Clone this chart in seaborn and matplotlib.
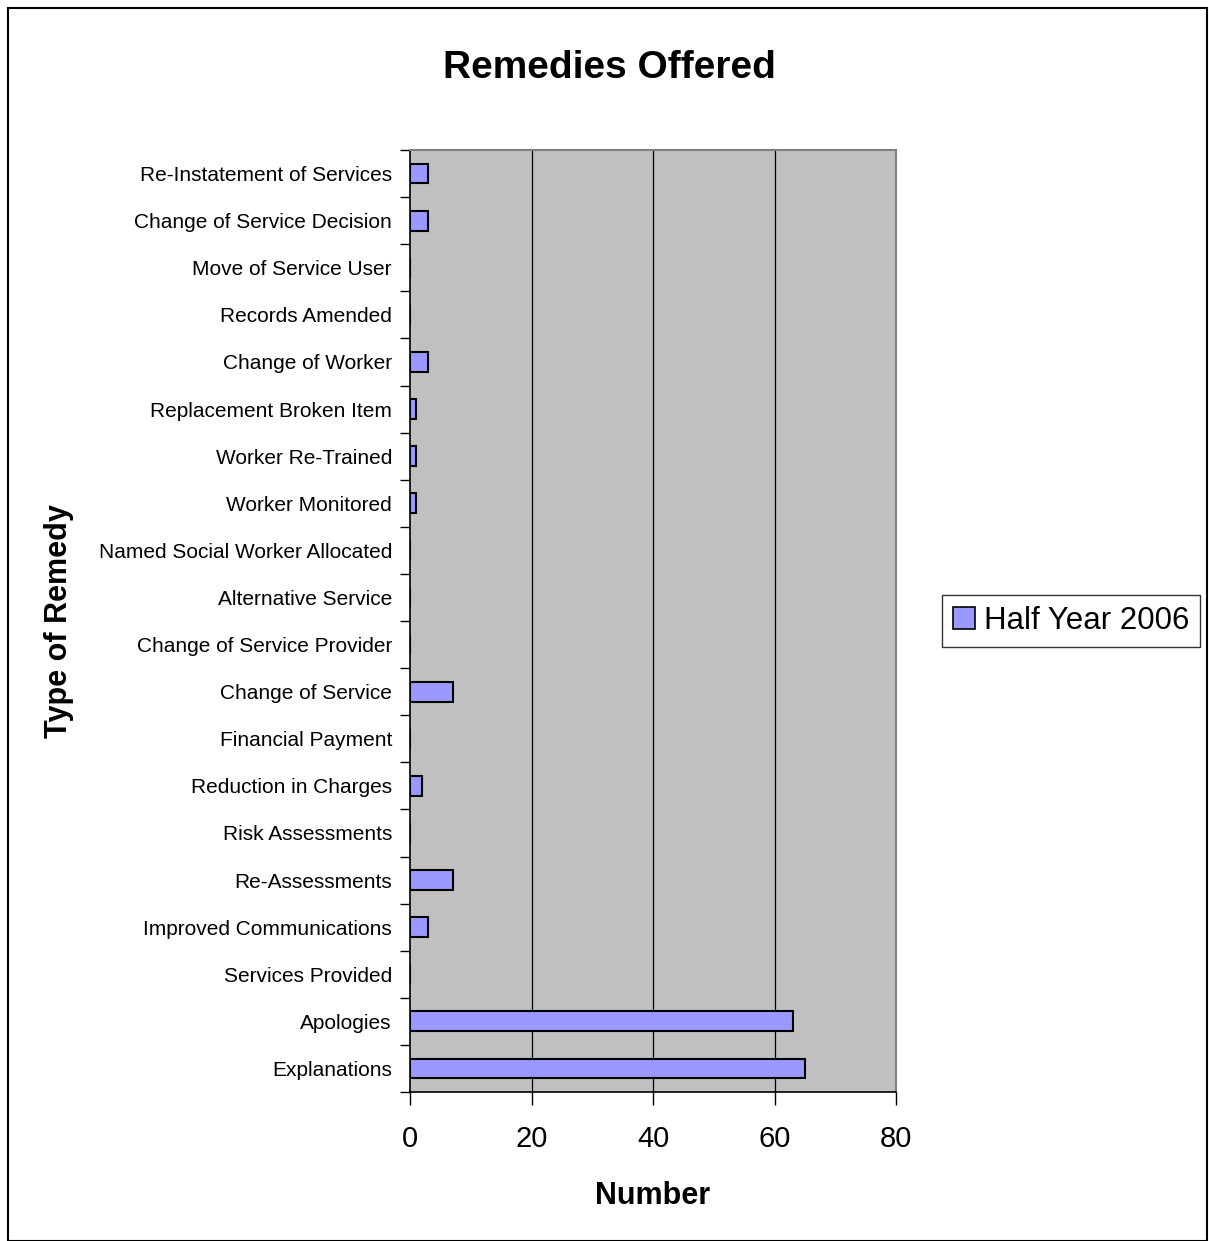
import matplotlib
matplotlib.use("Agg")
import matplotlib.pyplot as plt
from matplotlib.patches import Rectangle
import seaborn as sns
import pandas as pd
import numpy as np

categories = [
    "Re-Instatement of Services",
    "Change of Service Decision",
    "Move of Service User",
    "Records Amended",
    "Change of Worker",
    "Replacement Broken Item",
    "Worker Re-Trained",
    "Worker Monitored",
    "Named Social Worker Allocated",
    "Alternative Service",
    "Change of Service Provider",
    "Change of Service",
    "Financial Payment",
    "Reduction in Charges",
    "Risk Assessments",
    "Re-Assessments",
    "Improved Communications",
    "Services Provided",
    "Apologies",
    "Explanations",
]
values = [3, 3, 0, 0, 3, 1, 1, 1, 0, 0, 0, 7, 0, 2, 0, 7, 3, 0, 63, 65]
series_name = "Half Year 2006"
x_ticks = [0, 20, 40, 60, 80]

df = pd.DataFrame({"Type of Remedy": categories, "Number": values, "Series": series_name})

sns.set_theme(style="white")
plt.rcParams["font.family"] = ["Liberation Sans", "DejaVu Sans"]
plt.rcParams["text.color"] = "black"
plt.rcParams["axes.labelcolor"] = "black"
plt.rcParams["xtick.color"] = "black"
plt.rcParams["ytick.color"] = "black"

W, H = 1209, 1241
fig = plt.figure(figsize=(W / 100, H / 100), dpi=100)
ax = fig.add_axes([410 / W, 1 - 1092 / H, (896 - 410) / W, (1092 - 150) / H])
ax.set_facecolor("#C0C0C0")

sns.barplot(data=df, x="Number", y="Type of Remedy", hue="Series", orient="h",
            palette=["#9999FF"], edgecolor="black", linewidth=1.5, width=0.42,
            saturation=1, ax=ax, legend=False, zorder=3)

ax.set_xlim(0, 80)
ax.set_ylim(19.5, -0.5)
ax.set_xticks(x_ticks)
ax.set_xticklabels([str(t) for t in x_ticks], fontsize=21)
ax.tick_params(axis="x", direction="out", length=9, width=1, colors="black", pad=15, bottom=True)
ax.tick_params(axis="y", which="major", length=0, pad=13, labelsize=15, colors="black")
ax.set_yticks(np.arange(-0.5, 20, 1), minor=True)
ax.tick_params(axis="y", which="minor", direction="out", length=7, width=1, color="black", left=True)

ax.grid(False)
for x in x_ticks[1:-1]:
    ax.axvline(x, color="black", linewidth=0.9, zorder=1)

ax.spines["left"].set_color("black")
ax.spines["bottom"].set_color("black")
ax.spines["left"].set_linewidth(1.2)
ax.spines["bottom"].set_linewidth(1.2)
ax.spines["top"].set_color("#808080")
ax.spines["right"].set_color("#808080")
ax.spines["top"].set_linewidth(1.5)
ax.spines["right"].set_linewidth(1.5)
for s in ax.spines.values():
    s.set_visible(True)

ax.set_xlabel("Number", fontsize=22, fontweight="bold", labelpad=20, color="black")
ax.set_ylabel("Type of Remedy", fontsize=22, fontweight="bold", labelpad=18, color="black")

fig.text(609 / W, 1 - 68 / H, "Remedies Offered", fontsize=28, fontweight="bold",
         ha="center", va="center", color="black")

handle = Rectangle((0, 0), 1, 1, facecolor="#9999FF", edgecolor="black", linewidth=1.2)
leg = fig.legend([handle], [series_name], loc="center",
                 bbox_to_anchor=(1071 / W, 1 - 621 / H), fontsize=22.5,
                 frameon=True, fancybox=False, edgecolor="black",
                 handlelength=0.7, handleheight=0.7, handletextpad=0.3,
                 borderpad=0.35, borderaxespad=0)
leg.get_frame().set_linewidth(1.0)
for t in leg.get_texts():
    t.set_color("black")

fig.patches.append(Rectangle((8 / W, 0), (1207 - 8) / W, 1 - 8 / H,
                             transform=fig.transFigure, fill=False,
                             edgecolor="black", linewidth=1.5))

fig.savefig("out.png", dpi=100)
